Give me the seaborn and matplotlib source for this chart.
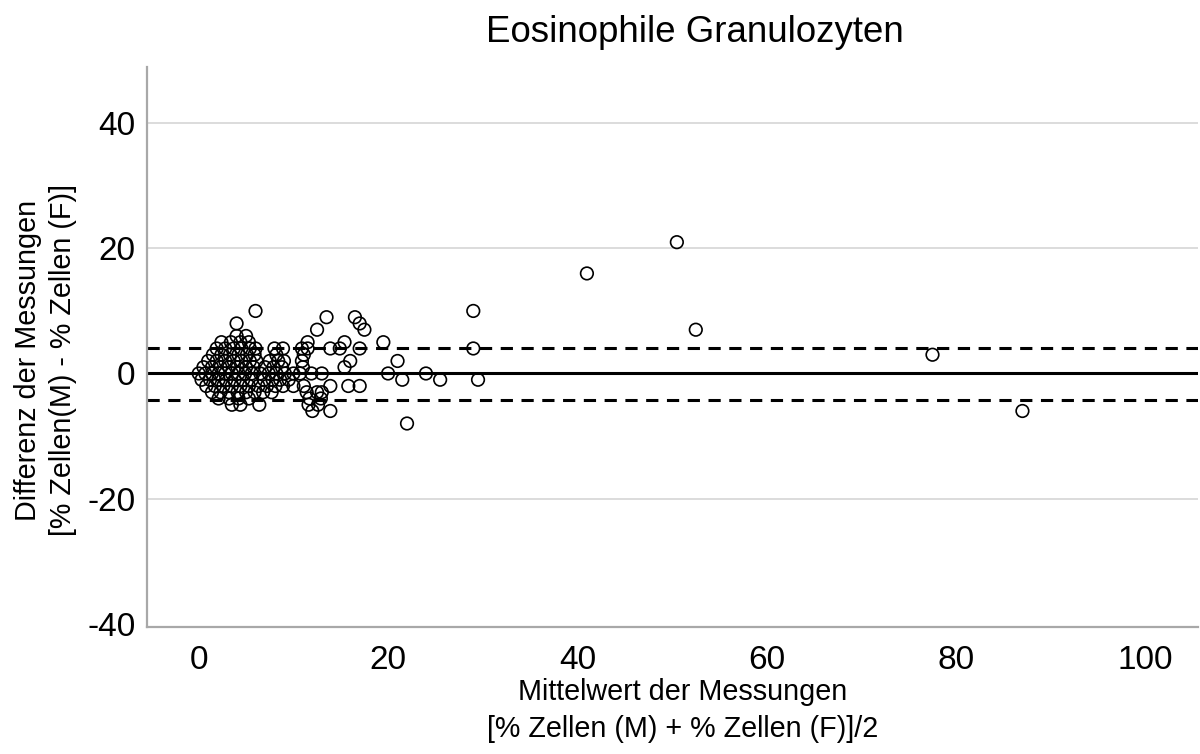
import matplotlib
matplotlib.use("Agg")
import matplotlib.pyplot as plt
import seaborn as sns
import pandas as pd

# ---- data ----
# cluster rows: difference value -> list of mean values
row_p10 = [6.0, 29.0]
row_p9 = [13.5, 16.5]
row_p8 = [4.0, 17.0]
row_p7 = [12.5, 17.5, 52.5]
row_p6 = [4.0, 5.0]
row_p5 = [2.4, 3.4, 4.4, 5.3, 11.5, 15.4, 19.5]
row_p4 = [1.9, 2.8, 3.7, 4.5, 5.4, 6.0, 8.0, 8.9, 10.9, 11.5, 13.9, 14.9, 17.0, 29.0]
row_p3 = [1.5, 2.4, 3.3, 4.2, 5.1, 5.9, 8.2, 11.1, 77.5]
row_p2 = [1.0, 1.9, 2.8, 3.7, 4.5, 5.4, 6.1, 7.5, 8.4, 9.0, 10.9, 16.0, 21.0]
row_p1 = [0.5, 1.4, 2.3, 3.2, 4.1, 5.0, 5.8, 7.0, 7.9, 8.8, 11.0, 15.4]
row_0 = [0.0, 0.7, 1.4, 2.1, 2.8, 3.5, 4.2, 4.9, 5.6, 6.5, 7.4, 8.2, 9.1,
         10.0, 10.7, 11.9, 13.0, 20.0, 24.0]
row_m1 = [0.3, 1.2, 2.1, 2.9, 3.8, 4.7, 5.6, 6.9, 7.8, 8.6, 9.5, 21.5, 25.5, 29.5]
row_m2 = [0.8, 1.7, 2.6, 3.5, 4.4, 5.3, 6.3, 7.2, 8.1, 8.9, 10.0, 11.1, 13.9, 15.8, 17.0]
row_m3 = [1.4, 2.3, 3.2, 4.1, 5.0, 5.9, 6.8, 7.7, 11.4, 12.5, 13.0]
row_m4 = [2.1, 3.2, 4.2, 5.3, 11.7, 12.9]
row_m5 = [3.5, 4.4, 6.4, 11.6, 12.6]
row_m6 = [12.0, 13.9, 87.0]
row_m8 = [22.0]
row_p16 = [41.0]
row_p21 = [50.5]

rows = {10: row_p10, 9: row_p9, 8: row_p8, 7: row_p7, 6: row_p6, 5: row_p5,
        4: row_p4, 3: row_p3, 2: row_p2, 1: row_p1, 0: row_0, -1: row_m1,
        -2: row_m2, -3: row_m3, -4: row_m4, -5: row_m5, -6: row_m6,
        -8: row_m8, 16: row_p16, 21: row_p21}

bias = 0.0
upper_loa = 4.0
lower_loa = -4.2

x_ticks = [0, 20, 40, 60, 80, 100]
y_ticks = [-40, -20, 0, 20, 40]

means, diffs = [], []
for d, xs in rows.items():
    for m in xs:
        means.append(m)
        diffs.append(d)
df = pd.DataFrame({"mean": means, "diff": diffs})

# ---- plotting ----
sns.set_style("white")
plt.rcParams['font.family'] = ['Liberation Sans', 'DejaVu Sans']
plt.rcParams['text.color'] = 'black'
plt.rcParams['xtick.color'] = 'black'
plt.rcParams['ytick.color'] = 'black'
plt.rcParams['axes.labelcolor'] = 'black'

fig = plt.figure(figsize=(12, 7.54), dpi=100)
ax = fig.add_axes([0.1222, 0.168, 0.8758, 0.743])

for yv in [-20, 20, 40]:
    ax.axhline(yv, color='#d6d6d6', lw=1.2, zorder=0)
ax.axhline(bias, color='black', lw=2.2, zorder=1)
ax.axhline(upper_loa, color='black', lw=2.2, ls=(0, (4, 2.8)), zorder=1)
ax.axhline(lower_loa, color='black', lw=2.2, ls=(0, (4, 2.8)), zorder=1)

sns.scatterplot(data=df, x="mean", y="diff", ax=ax, s=82, marker='o',
                edgecolor='black', linewidth=1.2, zorder=3, legend=False)
ax.collections[-1].set_facecolor('none')

ax.set_xlim(-5.5, 105.5)
ax.set_ylim(-40.6, 49)
ax.set_xticks(x_ticks)
ax.set_yticks(y_ticks)
ax.set_xticklabels([str(t) for t in x_ticks])
ax.set_yticklabels([str(t) for t in y_ticks])

for s in ['top', 'right']:
    ax.spines[s].set_visible(False)
for s in ['left', 'bottom']:
    ax.spines[s].set_color('#a8a8a8')
    ax.spines[s].set_linewidth(1.6)

ax.tick_params(axis='x', length=6, width=1.2, color='#a8a8a8', labelsize=24,
               pad=7, labelcolor='black')
ax.tick_params(axis='y', length=0, labelsize=24, pad=8, labelcolor='black')

ax.set_xlabel("Mittelwert der Messungen\n[% Zellen (M) + % Zellen (F)]/2",
              fontsize=20.7, linespacing=1.4)
ax.xaxis.set_label_coords(0.51, -0.09)
ax.set_ylabel("Differenz der Messungen\n[% Zellen(M) - % Zellen (F)]",
              fontsize=20.7, linespacing=1.35)
ax.yaxis.set_label_coords(-0.066, 0.477)

fig.text(695 / 1200, 1 - 33 / 754, "Eosinophile Granulozyten",
         ha='center', va='center', fontsize=26.4)

fig.savefig("out.png", dpi=100)
